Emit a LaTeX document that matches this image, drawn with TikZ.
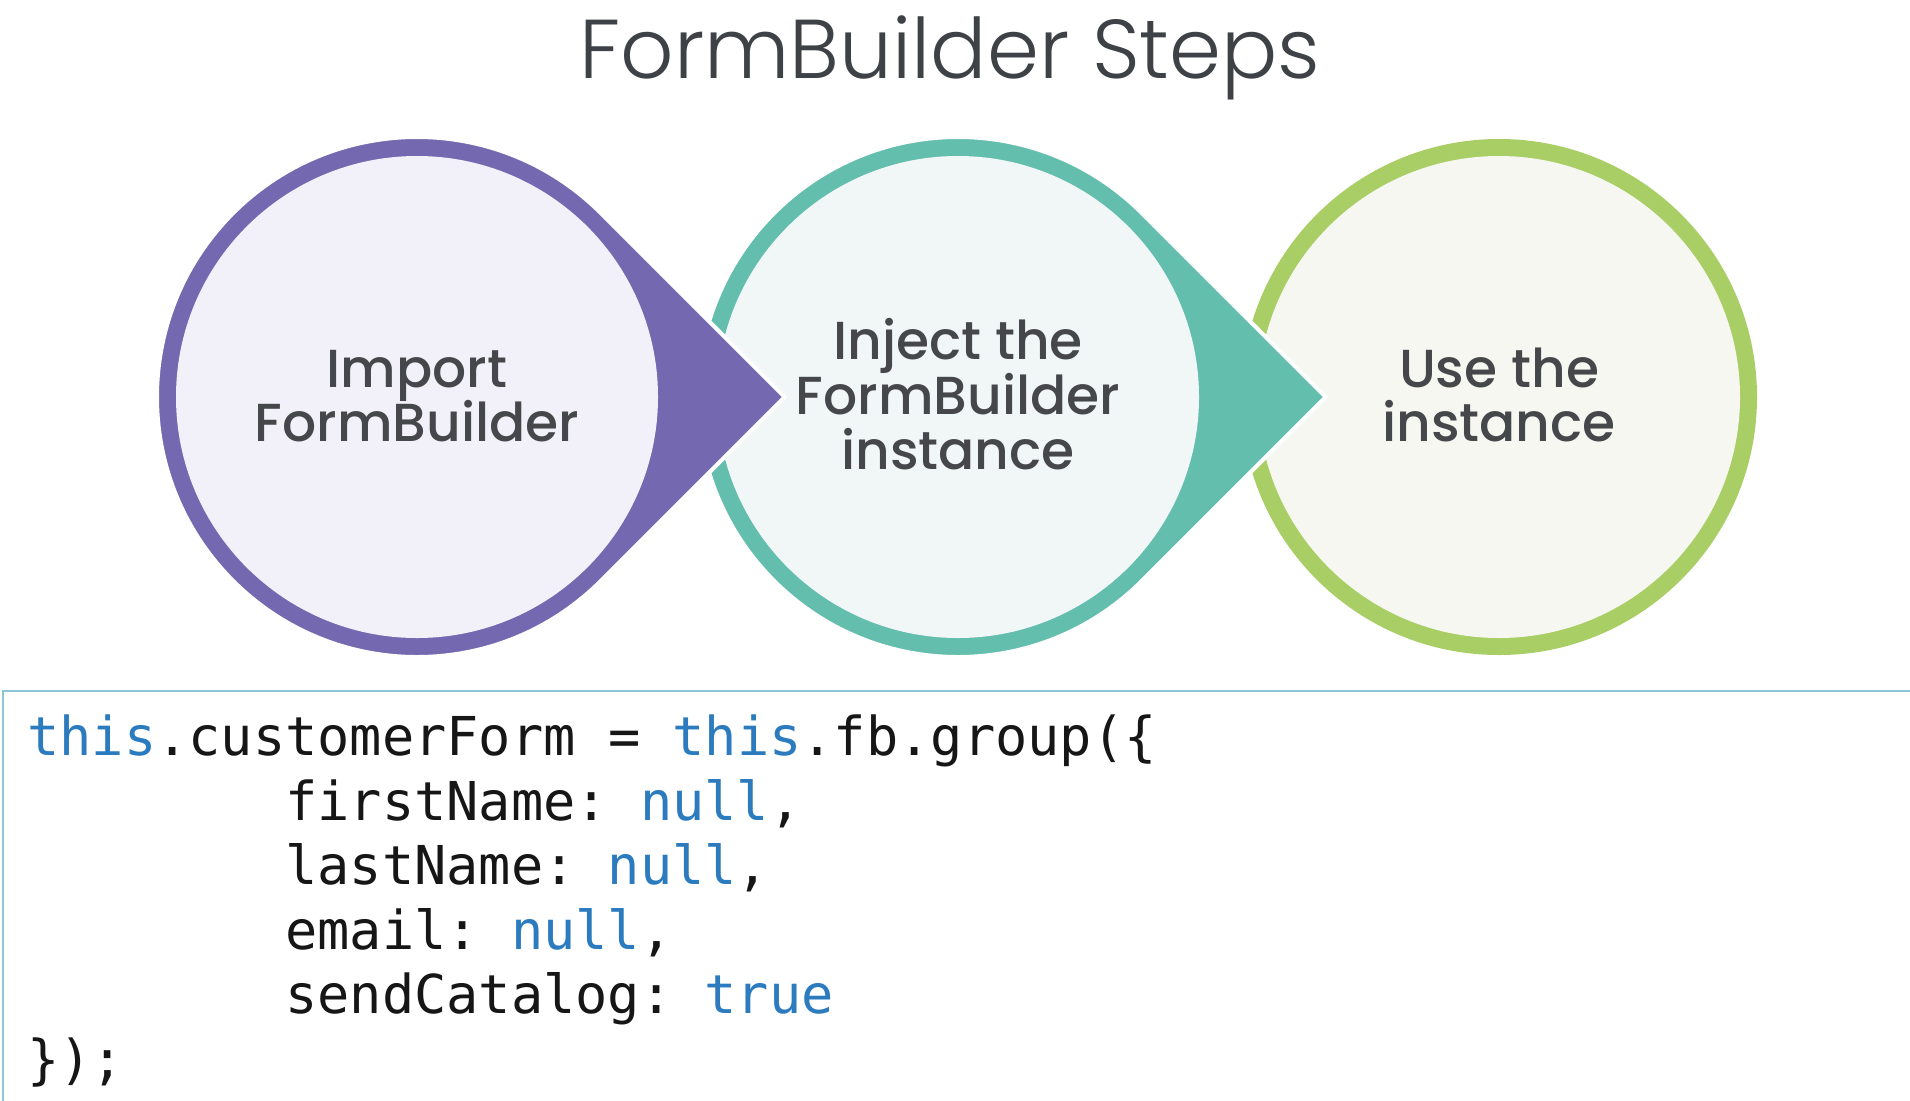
\documentclass[tikz,border=0pt]{standalone}
\usepackage{fontspec}
\usetikzlibrary{calc}
\newfontfamily\titlefont{Poppins Light}
\newfontfamily\stepfont{Poppins Medium}
\newfontfamily\codefont{DejaVu Sans Mono}

\definecolor{titlegray}{HTML}{3E4247}
\definecolor{stepgray}{HTML}{45474B}
\definecolor{ringA}{HTML}{7468B1}
\definecolor{fillA}{HTML}{F2F0F8}
\definecolor{ringB}{HTML}{63BEAE}
\definecolor{fillB}{HTML}{F1F6F6}
\definecolor{ringC}{HTML}{A8CE65}
\definecolor{fillC}{HTML}{F6F7F1}
\definecolor{codeblue}{HTML}{2B7BBE}
\definecolor{codeink}{HTML}{161616}
\definecolor{frameblue}{HTML}{8CC6D9}

\newcommand\kw[1]{\textcolor{codeblue}{#1}}

% teardrop step: ring colour filled out to a point on the right,
% white edge, light inner disc
\newcommand\teardrop[3]{%
  \fill[#2, draw=white, line width=4pt]
    ($(#1)+(45:260pt)$) -- ($(#1)+(367.7pt,0pt)$) -- ($(#1)+(-45:260pt)$)
    arc[start angle=-45, end angle=-315, radius=260pt] -- cycle;
  \fill[#3] (#1) circle[radius=241pt];
}

\tikzset{
  titletext/.style={font=\titlefont\fontsize{83.5}{83.5}\selectfont, text=titlegray, inner sep=0pt},
  steptext/.style={font=\stepfont\fontsize{53.5}{53.5}\selectfont, text=stepgray, inner sep=0pt, anchor=base},
  codetext/.style={font=\codefont\fontsize{53.6}{53.6}\selectfont\frenchspacing, text=codeink, inner sep=0pt, anchor=base west},
  codeframe/.style={draw=frameblue, line width=2pt}
}

\begin{document}
\begin{tikzpicture}[x=1pt, y=-1pt]
\useasboundingbox (0,0) rectangle (1910,1100);
\fill[white] (0,0) rectangle (1910,1100);

% heading
\node[titletext, anchor=base] (title) at (950,78) {FormBuilder Steps};

% step centres
\coordinate (c1) at (417,397);
\coordinate (c2) at (958,397);
\coordinate (c3) at (1499,397);

% third step: plain ring
\fill[ringC] (c3) circle[radius=258pt];
\fill[fillC] (c3) circle[radius=241pt];

% second and first steps point to the right
\teardrop{c2}{ringB}{fillB}
\teardrop{c1}{ringA}{fillA}

% step labels
\node[steptext] (s1a) at ($(c1)+(0,-10)$) {Import};
\node[steptext] (s1b) at ($(c1)+(0,44)$) {FormBuilder};

\node[steptext] (s2a) at ($(c2)+(0,-38)$) {Inject the};
\node[steptext] (s2b) at ($(c2)+(0,17)$) {FormBuilder};
\node[steptext] (s2c) at ($(c2)+(0,72)$) {instance};

\node[steptext] (s3a) at ($(c3)+(0,-10)$) {Use the};
\node[steptext] (s3b) at ($(c3)+(0,44)$) {instance};

% code panel frame
\draw[codeframe] (1912,691) -- (3,691) -- (3,1102);

% code listing
\node[codetext] (k1) at (27,755)  {\kw{this}.customerForm = \kw{this}.fb.group(\{};
\node[codetext] (k2) at (285,820) {firstName: \kw{null},};
\node[codetext] (k3) at (285,884) {lastName: \kw{null},};
\node[codetext] (k4) at (285,949) {email: \kw{null},};
\node[codetext] (k5) at (285,1013) {sendCatalog: \kw{true}};
\node[codetext] (k6) at (27,1078) {\});};
\end{tikzpicture}
\end{document}
